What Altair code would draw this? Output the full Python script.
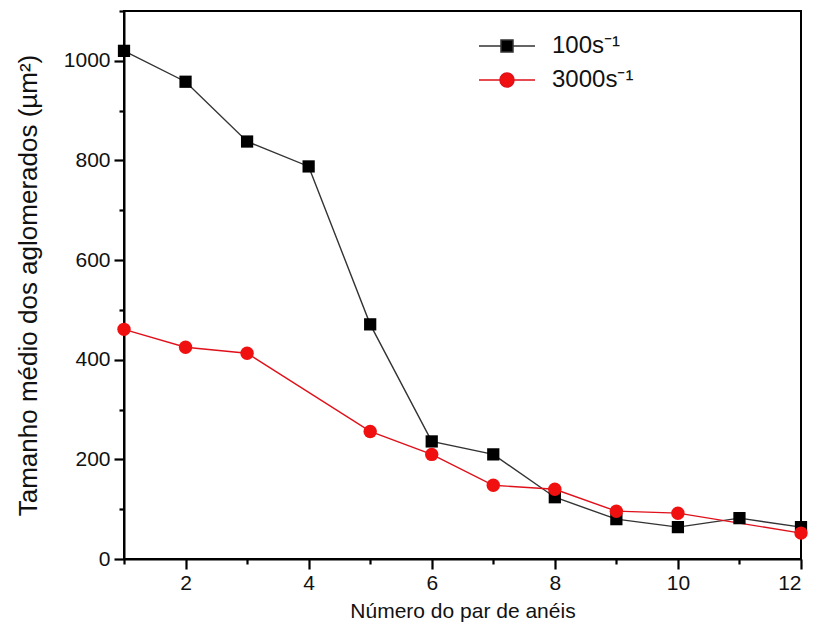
import altair as alt
import pandas as pd

x_black = [1, 2, 3, 4, 5, 6, 7, 8, 9, 10, 11, 12]
y_black = [1020, 958, 838, 788, 471, 236, 210, 124, 80, 64, 82, 64]
x_red = [1, 2, 3, 5, 6, 7, 8, 9, 10, 12]
y_red = [461, 425, 413, 256, 210, 148, 140, 96, 92, 52]
series_names = ["100s\u207b\u00b9", "3000s\u207b\u00b9"]
series_colors = ["#000000", "#f01010"]
line_colors = ["#333333", "#e0101a"]
x_ticks = list(range(1, 13))
y_ticks = list(range(0, 1101, 100))

df = pd.concat([
    pd.DataFrame({"x": x_black, "y": y_black, "s": series_names[0]}),
    pd.DataFrame({"x": x_red, "y": y_red, "s": series_names[1]}),
])

FONT = "Liberation Sans"

sq_path = "M-2.8,0H-0.6M0.6,0H2.8M-0.6,-0.6H0.6V0.6H-0.6Z"
ci_path = "M-2.8,0H-0.7M0.7,0H2.8M0.7,0A0.7,0.7,0,1,1,-0.7,0A0.7,0.7,0,1,1,0.7,0Z"

legend = alt.Legend(
    title=None, orient="none", legendX=371, legendY=23,
    labelFont=FONT, labelFontSize=24, labelColor="#111",
    rowPadding=10, labelOffset=33, symbolStrokeWidth=1.5, symbolSize=400,
)

xs = alt.Scale(domain=[1, 12], nice=False, zero=False)
ys = alt.Scale(domain=[0, 1100], nice=False)

x_axis = alt.Axis(
    values=x_ticks, title="Número do par de anéis", grid=False, format="d",
    labelExpr="datum.value % 2 == 0 ? datum.label : ''",
    labelFont=FONT, labelFontSize=21, labelColor="#111", labelPadding=3,
    titleFont=FONT, titleFontSize=21, titleFontWeight="normal", titleColor="#111", titlePadding=7,
    domainColor="black", domainWidth=2, tickColor="black", tickWidth=2.2,
    tickSize={"condition": {"test": "datum.value % 2 == 1", "value": 5}, "value": 10},
)
y_axis = alt.Axis(
    values=y_ticks, title="Tamanho médio dos aglomerados (µm²)", grid=False,
    labelExpr="datum.value % 200 == 0 ? datum.label : ''", format="d",
    labelFont=FONT, labelFontSize=21, labelColor="#111", labelPadding=4,
    titleFont=FONT, titleFontSize=26, titleFontWeight="normal", titleColor="#111", titlePadding=22,
    domainColor="black", domainWidth=2, tickColor="black", tickWidth=2.2,
    tickSize={"condition": {"test": "datum.value % 200 == 100", "value": 5}, "value": 10},
)

lines = alt.Chart(df).mark_line(strokeWidth=1.4).encode(
    x=alt.X("x:Q", scale=xs, axis=x_axis),
    y=alt.Y("y:Q", scale=ys, axis=y_axis),
    color=alt.Color("s:N", scale=alt.Scale(domain=series_names, range=line_colors), legend=None),
    detail="s:N",
)
points = alt.Chart(df).mark_point(filled=True, opacity=1).encode(
    x=alt.X("x:Q", scale=xs),
    y=alt.Y("y:Q", scale=ys),
    fill=alt.Fill("s:N", scale=alt.Scale(domain=series_names, range=series_colors), legend=None),
    shape=alt.Shape("s:N", scale=alt.Scale(domain=series_names, range=["square", "circle"]), legend=None),
    size=alt.Size("s:N", scale=alt.Scale(domain=series_names, range=[150, 180]), legend=None),
)
legend_layer = alt.Chart(df).transform_filter("false").mark_point(filled=True, opacity=1, size=400).encode(
    x=alt.X("x:Q", scale=xs),
    y=alt.Y("y:Q", scale=ys),
    fill=alt.Fill("s:N", scale=alt.Scale(domain=series_names, range=series_colors), legend=legend),
    stroke=alt.Stroke("s:N", scale=alt.Scale(domain=series_names, range=line_colors), legend=legend),
    shape=alt.Shape("s:N", scale=alt.Scale(domain=series_names, range=[sq_path, ci_path]), legend=legend),
)

chart = alt.layer(lines, points, legend_layer).resolve_scale(
    color="independent", fill="independent", shape="independent", stroke="independent", size="independent"
).properties(
    width=677, height=548,
    autosize=alt.AutoSizeParams(type="none"),
    padding={"left": 116, "top": 3, "right": 8, "bottom": 70},
    background="white",
).configure_view(stroke="black", strokeWidth=2)

chart.save("out.html", embed_options={"renderer": "svg", "actions": False})
